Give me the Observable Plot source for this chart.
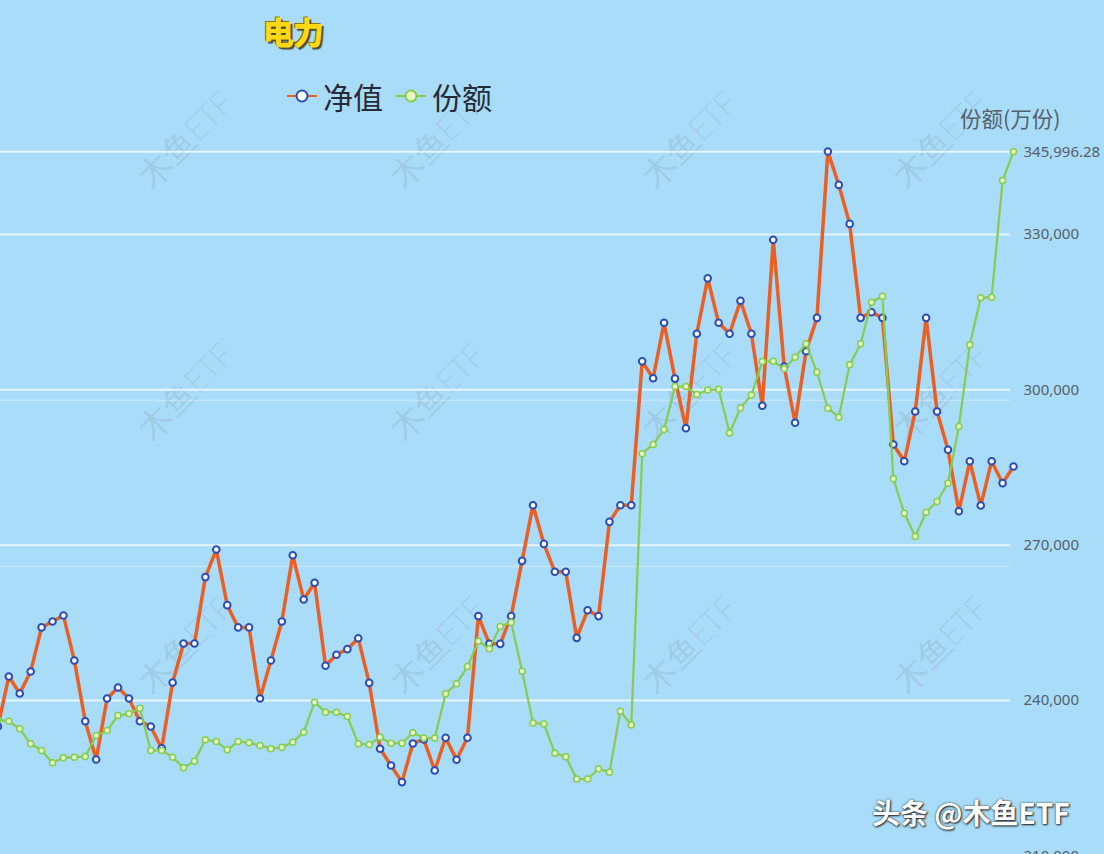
<!DOCTYPE html>
<html>
<head>
<meta charset="utf-8">
<script src="https://cdn.jsdelivr.net/npm/d3@7"></script>
<script src="https://cdn.jsdelivr.net/npm/@observablehq/plot@0.6"></script>
<style>
  html, body { margin: 0; padding: 0; background: #a8dcf8; }
  #wrap { position: relative; width: 1104px; height: 854px; overflow: hidden; background: #a8dcf8;
          font-family: "Noto Sans CJK SC", "Noto Sans", sans-serif; }
  #chart { position: absolute; left: 0; top: 0; }
  .ov { position: absolute; white-space: nowrap; }
  #title { left: 263px; top: 8px; font-size: 31px; font-weight: 900; color: #ffd814;
           text-shadow: 2px 2px 1px #4a4a30, -1px -1px 0 #8a7a10; letter-spacing: -1px; }
  #legend { left: 286px; top: 74px; font-size: 30px; color: #262b36; display: flex; align-items: center; }
  #legend .item { display: flex; align-items: center; margin-right: 12px; }
  #legend svg { margin-right: 5px; }
  #ytitle { left: 960px; top: 102px; font-size: 21.5px; color: #56606b; }
  #credit { left: 872px; top: 792px; font-size: 28px; font-weight: 700; color: #ffffff;
            text-shadow: 1px 1px 2px #222, 0 0 2px #333; }
  .wm { position: absolute; font-family: "Noto Sans", sans-serif; font-size: 33px; font-weight: 200;
        color: rgba(140,160,178,0.30); transform: translate(-50%,-50%) rotate(-45deg); white-space: nowrap; }
</style>
</head>
<body>
<div id="wrap">
  <div id="chart"></div>
  <div id="title" class="ov">电力</div>
  <div id="legend" class="ov"></div>
  <div id="ytitle" class="ov"></div>
  <div id="credit" class="ov">头条 @木鱼ETF</div>
</div>
<script>
// ---- data ----
const chartTitle = "电力";
const seriesNames = ["净值", "份额"];
const axisTitle = "份额(万份)";
const watermark = "木鱼ETF";

// 净值 (net value, hidden left axis)
const navValues = [
  0.8036, 0.8337, 0.8235, 0.8367, 0.8633, 0.8669, 0.8705, 0.8434, 0.8068, 0.7837,
  0.8205, 0.8271, 0.8205, 0.8068, 0.8036, 0.7904, 0.8301, 0.8536, 0.8536, 0.8936,
  0.9102, 0.8767, 0.8633, 0.8633, 0.8205, 0.8434, 0.8669, 0.9068, 0.8801, 0.8902,
  0.8402, 0.8468, 0.8502, 0.8568, 0.8299, 0.7902, 0.7801, 0.7701, 0.7934, 0.7958,
  0.7771, 0.7968, 0.7836, 0.7968, 0.8701, 0.8534, 0.8534, 0.8701, 0.9034, 0.9369,
  0.9136, 0.8968, 0.8968, 0.8570, 0.8736, 0.8701, 0.9269, 0.9369, 0.9369, 1.0236,
  1.0134, 1.0468, 1.0132, 0.9833, 1.0402, 1.0736, 1.0468, 1.0402, 1.0601, 1.0402,
  0.9968, 1.0968, 1.0205, 0.9866, 1.0297, 1.0498, 1.1500, 1.1299, 1.1064, 1.0498,
  1.0532, 1.0498, 0.9735, 0.9634, 0.9934, 1.0498, 0.9934, 0.9703, 0.9333, 0.9634,
  0.9367, 0.9634, 0.9502, 0.9602
];

// 份额 (shares, 万份, right axis)
const shareValues = [
  236272, 236001, 234533, 231636, 230342, 227967, 228932, 229048, 229183, 233239,
  234205, 237102, 237430, 238512, 230342, 230342, 229048, 227001, 228276, 232409,
  232080, 230477, 232080, 231829, 231308, 230670, 230979, 231945, 233876, 239671,
  237740, 237740, 236909, 231636, 231501, 232911, 231752, 231752, 233761, 232757,
  232757, 241293, 243225, 246566, 251452, 249984, 254291, 255064, 245658, 235673,
  235460, 229821, 229145, 224819, 224819, 226808, 226152, 237933, 235267, 287665,
  289461, 292319, 300643, 300643, 299117, 299967, 300102, 291663, 296510, 298982,
  305471, 305529, 304062, 306302, 308890, 303405, 296452, 294714, 304834, 308890,
  316924, 318083, 282817, 276173, 271673, 276366, 278433, 281967, 292918, 308697,
  317774, 317890, 340429, 345996.28
];

const days = d3.range(shareValues.length);
const shareTicks = [210000, 240000, 270000, 300000, 330000, 345996.28];
const navTicks = [0.9, 1.0];

// hidden left (净值) axis mapped onto the share axis
const navToShare = d3.scaleLinear().domain([0.9, 1.0]).range([265880, 297940]);

const navData = days.map((d, i) => ({day: d, v: navToShare(navValues[i])}));
const shareData = days.map((d, i) => ({day: d, v: shareValues[i]}));

const ORANGE = "#ea5f24", BLUE = "#2d4db3", GREEN = "#86cc4e";

const plot = Plot.plot({
  width: 1104,
  height: 854,
  marginLeft: 0,
  marginRight: 94,
  marginTop: 0,
  marginBottom: 0,
  style: {background: "transparent", fontFamily: "'Noto Sans', 'DejaVu Sans', sans-serif", overflow: "visible"},
  x: {domain: [0, days.length - 1], range: [-2.6, 1013], axis: null},
  y: {domain: [210000, 345996.28], range: [855.3, 151.2], axis: null},
  marks: [
    Plot.ruleY(navTicks.map(navToShare), {stroke: "#ffffff", strokeOpacity: 0.3, strokeWidth: 1.5}),
    Plot.ruleY(shareTicks, {stroke: "#ffffff", strokeOpacity: 0.7, strokeWidth: 2}),
    Plot.axisY(shareTicks, {
      anchor: "right", tickSize: 0, tickPadding: 13, label: null,
      tickFormat: d3.format(","), fontSize: 15, color: "#56606b"
    }),
    Plot.line(navData, {x: "day", y: "v", stroke: ORANGE, strokeWidth: 3.5, curve: "linear"}),
    Plot.dot(navData, {x: "day", y: "v", r: 3.3, fill: "#ffffff", stroke: BLUE, strokeWidth: 2}),
    Plot.line(shareData, {x: "day", y: "v", stroke: GREEN, strokeWidth: 2.2, curve: "linear"}),
    Plot.dot(shareData, {x: "day", y: "v", r: 3, fill: "#e6f7c4", stroke: GREEN, strokeWidth: 1.5})
  ]
});
document.getElementById("chart").appendChild(plot);

// title / legend / axis title
document.getElementById("title").textContent = chartTitle;
document.getElementById("ytitle").textContent = axisTitle;
const legendColors = [[ORANGE, BLUE, "#ffffff"], [GREEN, GREEN, "#e6f7c4"]];
const legend = document.getElementById("legend");
seriesNames.forEach((name, k) => {
  const [lc, sc, fc] = legendColors[k];
  const item = document.createElement("div");
  item.className = "item";
  item.innerHTML = `<svg width="32" height="16"><line x1="1" x2="31" y1="8" y2="8" stroke="${lc}" stroke-width="2"/><circle cx="16" cy="8" r="5.5" fill="${fc}" stroke="${sc}" stroke-width="2"/></svg><span>${name}</span>`;
  legend.appendChild(item);
});

// watermarks
const wmCols = [185, 437, 689, 940];
const wmRows = [140, 392, 645];
const wrap = document.getElementById("wrap");
wmRows.forEach(r => wmCols.forEach(c => {
  const el = document.createElement("div");
  el.className = "wm";
  el.style.left = c + "px";
  el.style.top = r + "px";
  el.textContent = watermark;
  wrap.insertBefore(el, document.getElementById("chart"));
}));
</script>
</body>
</html>
